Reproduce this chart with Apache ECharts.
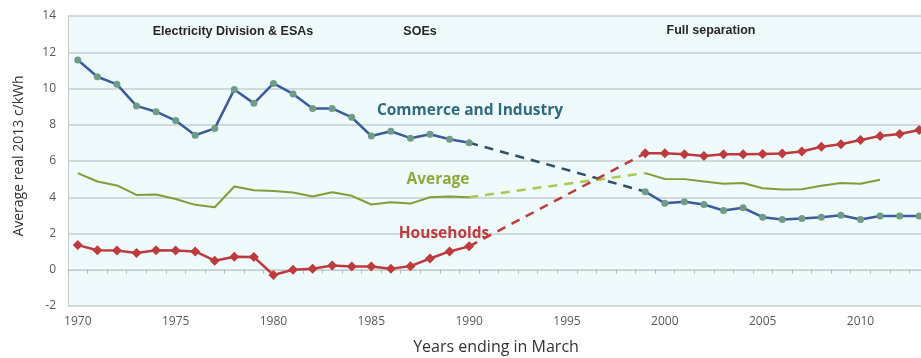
<!DOCTYPE html>
<html>
<head>
<meta charset="utf-8">
<script src="https://cdn.jsdelivr.net/npm/echarts@6/dist/echarts.min.js"></script>
<style>
html,body{margin:0;padding:0;background:#fff;}
#chart{width:921px;height:358px;}
</style>
</head>
<body>
<div id="chart"></div>
<script>
// ---- data ----
const years = [];
for (let y = 1970; y <= 2013; y++) years.push(String(y));

const earlyYears = ['1970','1971','1972','1973','1974','1975','1976','1977','1978','1979','1980',
  '1981','1982','1983','1984','1985','1986','1987','1988','1989','1990'];
const lateYears = ['1999','2000','2001','2002','2003','2004','2005','2006','2007','2008','2009',
  '2010','2011','2012','2013'];
const bridgeYears = ['1990','1999'];

const cniEarly = [11.57,10.65,10.23,9.04,8.72,8.23,7.42,7.80,9.95,9.18,10.28,
  9.70,8.89,8.90,8.41,7.38,7.64,7.26,7.48,7.20,7.01];
const cniLate = [4.31,3.67,3.75,3.60,3.27,3.42,2.90,2.77,2.83,2.90,3.01,2.77,2.96,2.96,2.96];
const cniBridge = [7.01,4.31];

const avgEarly = [5.33,4.87,4.65,4.13,4.15,3.90,3.58,3.45,4.59,4.39,4.35,
  4.26,4.04,4.28,4.08,3.60,3.73,3.65,4.00,4.04,4.00];
const avgLate = [5.33,5.01,5.00,4.87,4.74,4.79,4.50,4.43,4.44,4.63,4.79,4.75,4.96];
const avgBridge = [4.00,5.33];

const hhEarly = [1.36,1.08,1.06,0.92,1.08,1.06,1.01,0.50,0.72,0.70,-0.29,
  0.00,0.06,0.24,0.18,0.18,0.06,0.20,0.62,1.01,1.29];
const hhLate = [6.43,6.43,6.37,6.28,6.37,6.37,6.39,6.41,6.52,6.79,6.92,7.16,7.38,7.49,7.71];
const hhBridge = [1.29,6.43];

const yTicks = {min: -2, max: 14, interval: 2};
const eraLabels = ['Electricity Division & ESAs', 'SOEs', 'Full separation'];
const seriesNames = ['Commerce and Industry', 'Average', 'Households'];

function pairs(xs, vs) { return xs.map((x, i) => [x, vs[i]]); }

// ---- chart ----
const chart = echarts.init(document.getElementById('chart'), null, {renderer: 'canvas'});

const cBlue = '#3b5b9c', cBlueDash = '#2f5068', cMarker = '#6f9c86';
const cGreen = '#7f9e3a', cGreenDash = '#a9c94f';
const cRed = '#bd3b3d';

function solid(name, xs, vs, color, width, sym, symSize, symColor) {
  return {
    type: 'line', name: name, data: pairs(xs, vs),
    lineStyle: {color: color, width: width},
    itemStyle: {color: symColor || color},
    symbol: sym || 'none', symbolSize: symSize || 0, showSymbol: !!sym,
    animation: false, z: 3
  };
}
function dashed(xs, vs, color) {
  return {
    type: 'line', data: pairs(xs, vs), symbol: 'none',
    lineStyle: {color: color, width: 2.5, type: [9, 7]},
    animation: false, z: 2
  };
}
function txt(x, y, text, fill, font) {
  return {type: 'text', x: x, y: y, z: 10,
    style: {text: text, fill: fill, font: font, textAlign: 'center', textVerticalAlign: 'middle'}};
}

const eraFont = 'bold 12.5px "Liberation Sans", Arial';
const serFont = 'bold 15.5px "Open Sans"';

const option = {
  backgroundColor: '#ffffff',
  animation: false,
  grid: {left: 68, top: 16, width: 861, height: 290, show: true,
         backgroundColor: '#eefafc', borderWidth: 0,
         containLabel: false, outerBoundsMode: 'none'},
  xAxis: [
    {
      type: 'category', data: years, boundaryGap: true, position: 'bottom',
      axisLine: {show: true, onZero: true, lineStyle: {color: '#c5cacc', width: 1}},
      axisTick: {show: true, interval: 0, length: 4, lineStyle: {color: '#b5babc'}},
      axisLabel: {show: false}, splitLine: {show: false}
    },
    {
      type: 'category', data: years, boundaryGap: true, position: 'bottom',
      axisLine: {show: false, onZero: false},
      axisTick: {show: false},
      axisLabel: {
        show: true, margin: 10, color: '#5a5a5a', fontSize: 12,
        fontFamily: 'Open Sans',
        interval: function (i, v) { return (+v) % 5 === 0; }
      }
    }
  ],
  yAxis: {
    type: 'value', min: yTicks.min, max: yTicks.max, interval: yTicks.interval,
    axisLine: {show: true, lineStyle: {color: '#c5cacc', width: 1}},
    axisTick: {show: false},
    axisLabel: {color: '#5a5a5a', fontSize: 12, margin: 12, fontFamily: 'Open Sans'},
    splitLine: {show: true, lineStyle: {color: '#c9cecf', width: 1.5}},
    name: 'Average real 2013 c/kWh', nameLocation: 'middle', nameGap: 42,
    nameTextStyle: {color: '#333', fontSize: 14, fontFamily: 'Open Sans', padding: [0, 0, 0, 10]}
  },
  series: [
    dashed(bridgeYears, cniBridge, cBlueDash),
    dashed(bridgeYears, avgBridge, cGreenDash),
    dashed(bridgeYears, hhBridge, cRed),
    solid(seriesNames[1], earlyYears, avgEarly, cGreen, 2),
    solid(seriesNames[1], lateYears.slice(0, avgLate.length), avgLate, cGreen, 2),
    solid(seriesNames[0], earlyYears, cniEarly, cBlue, 2.5, 'circle', 7, cMarker),
    solid(seriesNames[0], lateYears, cniLate, cBlue, 2.5, 'circle', 7, cMarker),
    solid(seriesNames[2], earlyYears, hhEarly, cRed, 2.5, 'diamond', 10, cRed),
    solid(seriesNames[2], lateYears, hhLate, cRed, 2.5, 'diamond', 10, cRed)
  ],
  graphic: [
    txt(233, 32, eraLabels[0], '#262626', eraFont),
    txt(420, 32, eraLabels[1], '#262626', eraFont),
    txt(711, 31, eraLabels[2], '#262626', eraFont),
    txt(470, 111, seriesNames[0], '#2f6a80', serFont),
    txt(438, 180, seriesNames[1], '#8aab3c', serFont),
    txt(444, 234, seriesNames[2], '#c0393b', serFont),
    txt(496, 347, 'Years ending in March', '#333', '16px "Open Sans"')
  ]
};
chart.setOption(option);
</script>
</body>
</html>
